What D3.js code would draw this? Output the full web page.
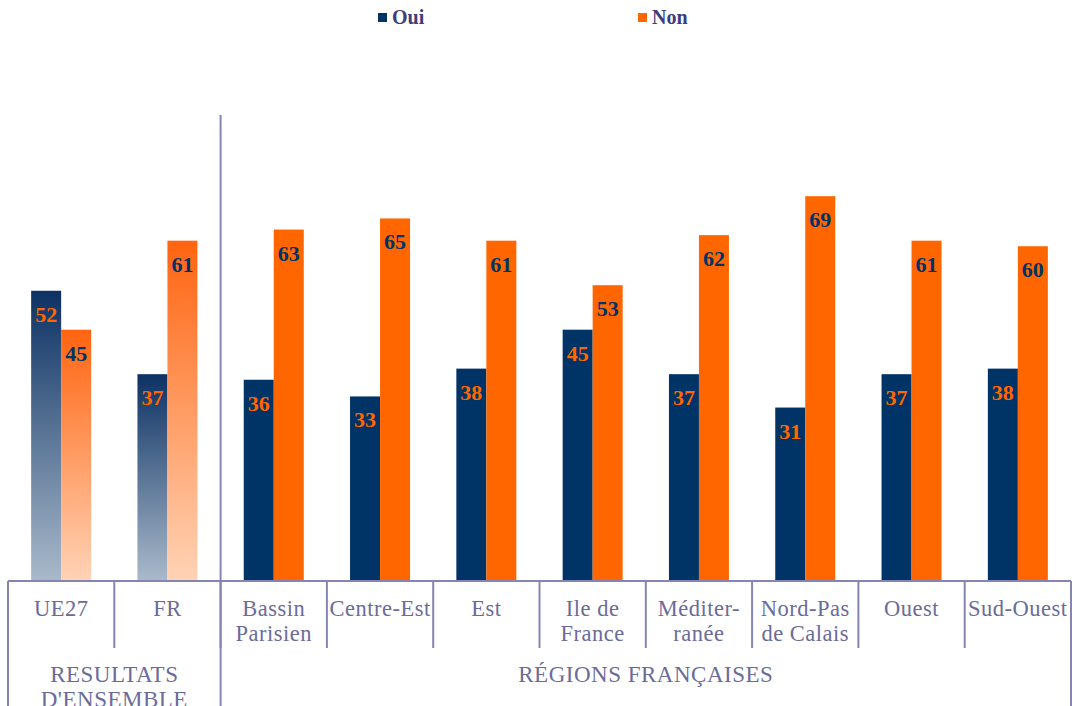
<!DOCTYPE html>
<html>
<head>
<meta charset="utf-8">
<script src="https://cdn.jsdelivr.net/npm/d3@7"></script>
<style>
  html, body { margin: 0; padding: 0; background: #fff; }
  svg { display: block; }
</style>
</head>
<body>
<div id="chart"></div>
<script>
// Data
const categories = ["UE27", "FR", "Bassin Parisien", "Centre-Est", "Est", "Ile de France",
    "Méditer-ranée", "Nord-Pas de Calais", "Ouest", "Sud-Ouest"];
const labelLines = [["UE27"], ["FR"], ["Bassin", "Parisien"], ["Centre-Est"], ["Est"],
    ["Ile de", "France"], ["Méditer-", "ranée"], ["Nord-Pas", "de Calais"], ["Ouest"], ["Sud-Ouest"]];
const oui = [52, 37, 36, 33, 38, 45, 37, 31, 37, 38];
const non = [45, 61, 63, 65, 61, 53, 62, 69, 61, 60];
const series = ["Oui", "Non"];
const groups = [
    { name: ["RESULTATS", "D'ENSEMBLE"], from: "UE27", to: "FR" },
    { name: ["RÉGIONS FRANÇAISES"], from: "Bassin Parisien", to: "Sud-Ouest" }
];
const overall = ["UE27", "FR"]; // drawn with gradients

const width = 1074, height = 706;
const navy = "#003366", orange = "#ff6600";
const axisColor = "#8585b3";
const textColor = "#6b6b99";
const serif = '"Liberation Serif"';

const svg = d3.select("#chart").append("svg")
    .attr("width", width)
    .attr("height", height);

const defs = svg.append("defs");
function grad(id, top, bottom) {
    const g = defs.append("linearGradient").attr("id", id)
        .attr("x1", 0).attr("y1", 0).attr("x2", 0).attr("y2", 1);
    g.append("stop").attr("offset", "0%").attr("stop-color", top);
    g.append("stop").attr("offset", "100%").attr("stop-color", bottom);
}
grad("gOui", "#0c3163", "#a9b9ca");
grad("gNon", "#ff6410", "#ffd3b6");

// Scales
const x = d3.scaleBand().domain(categories).range([8, 1071]).padding(0);
const xs = d3.scaleBand().domain(series).range([-30, 30]).padding(0);
const y = d3.scaleLinear().domain([0, 80]).range([580, 135]);

const rows = categories.map((c, i) => ({ cat: c, lines: labelLines[i], Oui: oui[i], Non: non[i] }));

// Bars + value labels
const barG = svg.append("g");
rows.forEach(r => {
    const cx = x(r.cat) + x.bandwidth() / 2;
    const isOverall = overall.includes(r.cat);
    series.forEach(s => {
        barG.append("rect")
            .attr("x", cx + xs(s))
            .attr("width", xs.bandwidth())
            .attr("y", y(r[s]))
            .attr("height", y(0) - y(r[s]))
            .attr("fill", isOverall ? (s === "Oui" ? "url(#gOui)" : "url(#gNon)") : (s === "Oui" ? navy : orange));
        barG.append("text")
            .attr("x", cx + xs(s) + xs.bandwidth() / 2)
            .attr("y", y(r[s]) + 31)
            .attr("text-anchor", "middle")
            .style("font-family", serif)
            .style("font-size", "22px")
            .style("font-weight", "bold")
            .style("fill", s === "Oui" ? orange : navy)
            .text(r[s]);
    });
});

// Axis frame
const ax = svg.append("g").attr("stroke", axisColor).attr("stroke-width", 2).attr("fill", "none");
ax.append("line").attr("x1", 8).attr("x2", 1071).attr("y1", 581).attr("y2", 581);
categories.forEach((c, i) => {
    if (i === 0) return;
    ax.append("line").attr("x1", x(c)).attr("x2", x(c)).attr("y1", 581).attr("y2", 648);
});
// group boundaries run to the bottom
[x("UE27"), x("Bassin Parisien"), x.range()[1]].forEach(px => {
    ax.append("line").attr("x1", px).attr("x2", px).attr("y1", 581).attr("y2", height);
});
// separator between the two groups in the plot area
ax.append("line").attr("x1", x("Bassin Parisien")).attr("x2", x("Bassin Parisien"))
    .attr("y1", 115).attr("y2", 581);

// Category labels
rows.forEach(r => {
    const cx = x(r.cat) + x.bandwidth() / 2;
    r.lines.forEach((ln, j) => {
        svg.append("text")
            .attr("x", cx)
            .attr("y", 616 + j * 25)
            .attr("text-anchor", "middle")
            .style("font-family", serif)
            .style("font-size", "22.5px")
            .style("letter-spacing", "0.5px")
            .style("fill", textColor)
            .text(ln);
    });
});

// Group labels
groups.forEach(g => {
    const cx = (x(g.from) + x(g.to) + x.bandwidth()) / 2;
    g.name.forEach((ln, j) => {
        svg.append("text")
            .attr("x", cx)
            .attr("y", 682 + j * 25)
            .attr("text-anchor", "middle")
            .style("font-family", serif)
            .style("font-size", "23px")
            .style("letter-spacing", "0.5px")
            .style("fill", textColor)
            .text(ln);
    });
});

// Legend
const legendX = [378, 638];
series.forEach((s, i) => {
    svg.append("rect")
        .attr("x", legendX[i]).attr("y", 13)
        .attr("width", 9).attr("height", 9)
        .attr("fill", s === "Oui" ? navy : orange);
    svg.append("text")
        .attr("x", legendX[i] + 14).attr("y", 24)
        .style("font-family", serif)
        .style("font-size", "20px")
        .style("font-weight", "bold")
        .style("fill", "#3d3d7a")
        .text(s);
});
</script>
</body>
</html>
